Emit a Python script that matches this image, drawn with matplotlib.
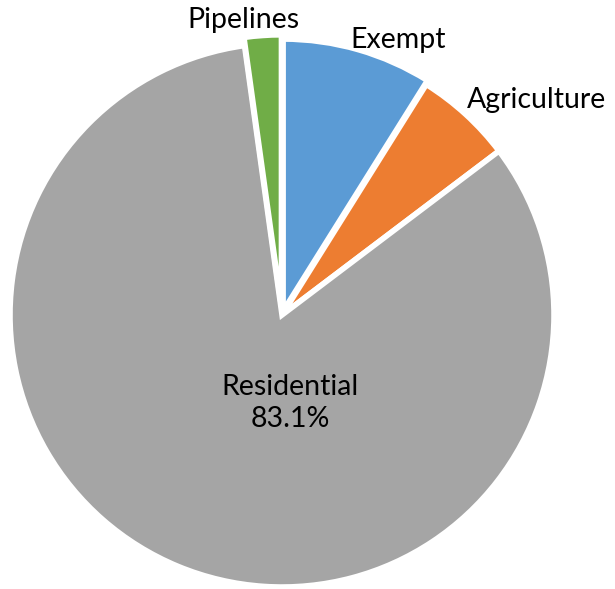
import matplotlib
matplotlib.use("Agg")
import matplotlib.pyplot as plt

categories = ["Exempt", "Agriculture", "Residential", "Pipelines"]
values = [8.9, 5.8, 83.1, 2.2]
colors = ["#5B9BD5", "#ED7D31", "#A5A5A5", "#70AD47"]
explode = [0.015, 0.0, 0.0, 0.03]

plt.rcParams['font.family'] = ['Lato', 'DejaVu Sans']

fig = plt.figure(figsize=(6.15, 5.89), dpi=100)
W, H = 615, 589
cx, cy, r = 282, 315, 272
ax = fig.add_axes([(cx - r) / W, (H - cy - r) / H, 2 * r / W, 2 * r / H])

wedges, _ = ax.pie(values, colors=colors, startangle=90, counterclock=False,
                   explode=explode, radius=1.0,
                   wedgeprops=dict(edgecolor='white', linewidth=4))
for w in wedges:
    w.set_clip_on(False)
ax.set_xlim(-1, 1)
ax.set_ylim(-1, 1)
ax.set_aspect('equal')
ax.axis('off')

def px(x, y):
    return ((x - cx) / r, (cy - y) / r)

fs = 20.5
ax.text(*px(243, 20), "Pipelines", ha='center', va='center', fontsize=fs, clip_on=False)
ax.text(*px(398, 40), "Exempt", ha='center', va='center', fontsize=fs, clip_on=False)
ax.text(*px(537, 100), "Agriculture", ha='center', va='center', fontsize=fs, clip_on=False)
ax.text(*px(290, 403), "Residential\n{:.1f}%".format(values[2]), ha='center', va='center',
        fontsize=fs, linespacing=1.3, clip_on=False)

fig.savefig("out.png", dpi=100)
